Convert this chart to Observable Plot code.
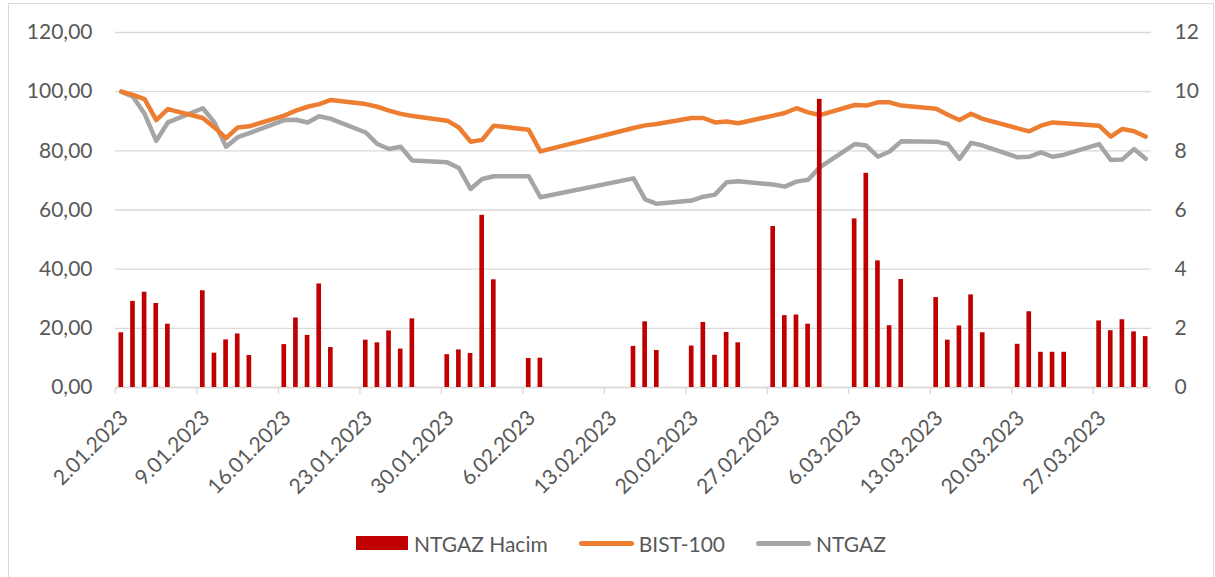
<!DOCTYPE html>
<html><head><meta charset="utf-8">
<script src="https://cdn.jsdelivr.net/npm/d3@7"></script>
<script src="https://cdn.jsdelivr.net/npm/@observablehq/plot@0.6"></script>
<style>
body{margin:0;background:#fff;font-family:Lato,sans-serif;}
#frame{position:absolute;left:8px;top:3px;width:1206px;height:620px;border:1px solid #d9d9d9;box-sizing:border-box;}
#chart{position:absolute;left:0;top:0;}
#legend{position:absolute;left:356px;top:530px;height:26px;display:flex;align-items:center;font:21px Lato,sans-serif;color:#595959;white-space:nowrap;}
#legend .sw{display:inline-block;width:52px;height:14px;background:#C00000;margin-right:6px;}
#legend .ln{display:inline-block;width:55px;height:5px;border-radius:3px;margin-right:5px;}
#legend .gap{display:inline-block;width:31px;}
</style>
</head><body>
<div id="frame"></div>
<div id="chart"></div>
<div id="legend">
  <span class="sw"></span><span>NTGAZ Hacim</span><span class="gap"></span>
  <span class="ln" style="background:#ED7D31"></span><span>BIST-100</span><span class="gap"></span>
  <span class="ln" style="background:#A5A5A5"></span><span>NTGAZ</span>
</div>
<script>
// Trading days
const dates = [
  "2023-01-02","2023-01-03","2023-01-04","2023-01-05","2023-01-06",
  "2023-01-09","2023-01-10","2023-01-11","2023-01-12","2023-01-13",
  "2023-01-16","2023-01-17","2023-01-18","2023-01-19","2023-01-20",
  "2023-01-23","2023-01-24","2023-01-25","2023-01-26","2023-01-27",
  "2023-01-30","2023-01-31","2023-02-01","2023-02-02","2023-02-03",
  "2023-02-06","2023-02-07",
  "2023-02-15","2023-02-16","2023-02-17",
  "2023-02-20","2023-02-21","2023-02-22","2023-02-23","2023-02-24",
  "2023-02-27","2023-02-28","2023-03-01","2023-03-02","2023-03-03",
  "2023-03-06","2023-03-07","2023-03-08","2023-03-09","2023-03-10",
  "2023-03-13","2023-03-14","2023-03-15","2023-03-16","2023-03-17",
  "2023-03-20","2023-03-21","2023-03-22","2023-03-23","2023-03-24",
  "2023-03-27","2023-03-28","2023-03-29","2023-03-30","2023-03-31"
];
// NTGAZ Hacim (right axis)
const volume = [
  1.85,2.91,3.22,2.84,2.14,
  3.27,1.16,1.61,1.81,1.08,
  1.45,2.35,1.76,3.50,1.35,
  1.60,1.51,1.91,1.30,2.32,
  1.11,1.27,1.15,5.82,3.64,
  0.98,0.99,
  1.39,2.22,1.25,
  1.40,2.20,1.09,1.86,1.51,
  5.44,2.43,2.45,2.14,9.74,
  5.70,7.24,4.28,2.09,3.65,
  3.04,1.60,2.08,3.13,1.85,
  1.46,2.56,1.19,1.19,1.19,
  2.25,1.92,2.29,1.88,1.72
];
// BIST-100 (left axis, normalised)
const bist100 = [
  100.0,98.9,97.5,90.4,94.1,
  91.1,87.9,84.3,87.9,88.3,
  91.9,93.6,94.9,95.8,97.2,
  95.8,94.9,93.6,92.5,91.8,
  90.2,87.9,83.1,83.7,88.5,
  87.1,79.8,
  87.7,88.6,89.1,
  91.1,91.1,89.6,89.9,89.3,
  91.9,92.8,94.4,93.0,92.1,
  95.5,95.3,96.4,96.4,95.3,
  94.2,92.2,90.4,92.5,90.8,
  87.6,86.6,88.5,89.6,89.3,
  88.5,84.8,87.4,86.6,84.8
];
// NTGAZ (left axis, normalised)
const ntgaz = [
  100.0,98.3,92.5,83.4,89.6,
  94.4,89.6,81.4,84.6,86.0,
  90.4,90.5,89.6,91.7,90.8,
  86.2,82.3,80.6,81.4,76.7,
  76.1,74.2,67.1,70.5,71.4,
  71.4,64.3,
  70.7,63.6,62.1,
  63.2,64.5,65.2,69.4,69.7,
  68.6,67.9,69.6,70.2,74.4,
  82.3,81.8,78.0,79.8,83.2,
  83.1,82.3,77.3,82.7,81.8,
  77.8,78.0,79.5,78.0,78.7,
  82.3,76.9,77.1,80.6,77.3
];
const xTickLabels = ["2.01.2023","9.01.2023","16.01.2023","23.01.2023","30.01.2023","6.02.2023","13.02.2023","20.02.2023","27.02.2023","6.03.2023","13.03.2023","20.03.2023","27.03.2023"];
const leftTicks = [0,20,40,60,80,100,120];
const rightTicks = [0,2,4,6,8,10,12];

const DAY = 864e5;
const parseLabel = s => { const [d,m,y] = s.split(".").map(Number); return new Date(Date.UTC(y, m-1, d)); };
const tickDates = xTickLabels.map(parseLabel);
const labelOf = new Map(tickDates.map((d,i)=>[+d, xTickLabels[i]]));
const rows = dates.map((s,i)=>({date:new Date(s+"T00:00:00Z"), vol:volume[i], bist:bist100[i], ntgaz:ntgaz[i]}));
const ratio = 120/12; // right axis maps 0..12 onto 0..120
const mid = d => new Date(+d.date + DAY/2);

const chart = Plot.plot({
  width:1215, height:515,
  marginLeft:115, marginRight:64, marginTop:32, marginBottom:128,
  style:{fontFamily:"Lato, sans-serif", fontSize:"21px", color:"#595959", background:"transparent", overflow:"visible"},
  x:{type:"utc", domain:[new Date(Date.UTC(2023,0,2)), new Date(Date.UTC(2023,3,1))], label:null},
  y:{domain:[0,120], label:null},
  marks:[
    Plot.gridY(leftTicks, {stroke:"#d9d9d9", strokeOpacity:1, strokeWidth:1.3}),
    Plot.axisY(leftTicks, {anchor:"left", tickSize:0, tickPadding:23, label:null, fill:"#595959",
      tickFormat:d=>d.toFixed(2).replace(".",",")}),
    Plot.axisY(rightTicks.map(v=>v*ratio), {anchor:"right", tickSize:0, tickPadding:23, label:null, fill:"#595959",
      tickFormat:d=>String(d/ratio)}),
    Plot.axisX(tickDates, {tickSize:7, stroke:"#d9d9d9", strokeWidth:1.3, tickFormat:()=>"", label:null}),
    Plot.axisX(tickDates, {tickSize:0, tickPadding:27, tickRotate:-45, dx:9, label:null, fill:"#595959",
      tickFormat:d=>labelOf.get(+d)}),
    Plot.ruleY([0], {stroke:"#d9d9d9", strokeWidth:1.3}),
    Plot.line(rows, {x:mid, y:"ntgaz", stroke:"#A5A5A5", strokeWidth:4.5, strokeLinejoin:"round", strokeLinecap:"round"}),
    Plot.line(rows, {x:mid, y:"bist", stroke:"#ED7D31", strokeWidth:4.5, strokeLinejoin:"round", strokeLinecap:"round"}),
    Plot.rect(rows, {x1:d=>new Date(+d.date + DAY*0.3), x2:d=>new Date(+d.date + DAY*0.7), y1:0, y2:d=>d.vol*ratio, fill:"#C00000", inset:0})
  ]
});
document.getElementById("chart").appendChild(chart);
</script>
</body></html>
